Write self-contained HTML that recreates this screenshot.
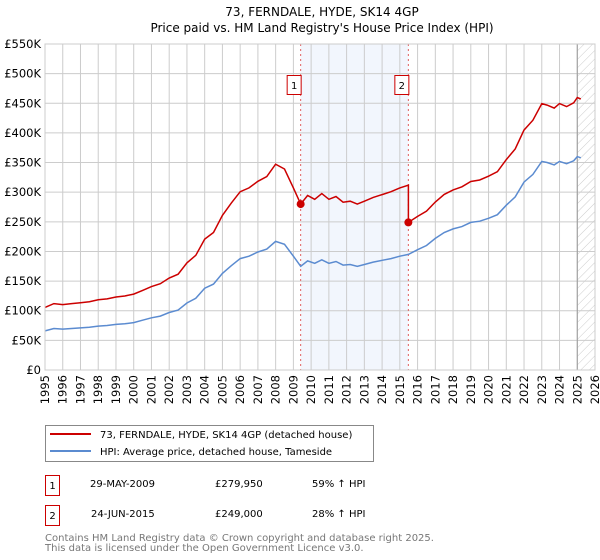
<!DOCTYPE html>
<html><head><meta charset="utf-8"><style>
body{margin:0;background:#fff;font-family:"DejaVu Sans","Liberation Sans",sans-serif;}
svg{display:block}
</style></head><body>
<svg id="chart" width="600" height="560" xmlns="http://www.w3.org/2000/svg" font-family="DejaVu Sans, Liberation Sans, sans-serif">
<defs><pattern id="hatch" width="6" height="6" patternUnits="userSpaceOnUse" patternTransform="rotate(45)"><line x1="0" y1="0" x2="0" y2="6" stroke="#ccc" stroke-width="1"/></pattern></defs>
<text x="322" y="16" text-anchor="middle" font-size="12">73, FERNDALE, HYDE, SK14 4GP</text>
<text x="322" y="32" text-anchor="middle" font-size="12">Price paid vs. HM Land Registry's House Price Index (HPI)</text>
<g id="plot"></g>
<g>
<rect x="45.5" y="425.5" width="328" height="36" fill="#fff" stroke="#888"/>
<line x1="50" y1="434" x2="91" y2="434" stroke="#cc0000" stroke-width="2"/>
<text x="100" y="438" font-size="10">73, FERNDALE, HYDE, SK14 4GP (detached house)</text>
<line x1="50" y1="451" x2="91" y2="451" stroke="#5b8bd0" stroke-width="2"/>
<text x="100" y="455" font-size="10">HPI: Average price, detached house, Tameside</text>
</g>
<g font-size="10">
<rect x="45.5" y="475.5" width="14" height="20" fill="#fff" stroke="#cc0000"/>
<text x="52.5" y="489" text-anchor="middle">1</text>
<text x="90" y="487">29-MAY-2009</text><text x="215" y="487">£279,950</text><text x="312" y="487">59% ↑ HPI</text>
<rect x="45.5" y="505.5" width="14" height="20" fill="#fff" stroke="#cc0000"/>
<text x="52.5" y="519" text-anchor="middle">2</text>
<text x="91" y="517">24-JUN-2015</text><text x="215" y="517">£249,000</text><text x="312" y="517">28% ↑ HPI</text>
</g>
<text x="45" y="541" font-size="10" fill="#777">Contains HM Land Registry data © Crown copyright and database right 2025.</text>
<text x="45" y="551" font-size="10" fill="#777">This data is licensed under the Open Government Licence v3.0.</text>
</svg>
<script>
const hpiYears=[1995,1995.5,1996,1996.5,1997,1997.5,1998,1998.5,1999,1999.5,2000,2000.5,2001,2001.5,2002,2002.5,2003,2003.5,2004,2004.5,2005,2005.5,2006,2006.5,2007,2007.5,2008,2008.5,2009,2009.41,2009.8,2010.2,2010.6,2011,2011.4,2011.8,2012.2,2012.6,2013,2013.5,2014,2014.5,2015,2015.48,2016,2016.5,2017,2017.5,2018,2018.5,2019,2019.5,2020,2020.5,2021,2021.5,2022,2022.5,2023,2023.3,2023.7,2024,2024.4,2024.8,2025,2025.2];
const hpiValues=[66,70,69,70,71,72,74,75,77,78,80,84,88,91,97,101,113,121,138,145,163,176,188,192,199,204,217,212,192,175,184,180,186,180,183,177,178,175,178,182,185,188,192,195,203,210,222,232,238,242,249,251,256,262,278,292,317,330,352,350,346,352,348,353,360,358];
const saleYears=[2009.41,2015.48];
const salePrices=[279950,249000];
const saleLabels=["1","2"];
const yTicks=[0,50,100,150,200,250,300,350,400,450,500,550];
const xTicks=[1995,1996,1997,1998,1999,2000,2001,2002,2003,2004,2005,2006,2007,2008,2009,2010,2011,2012,2013,2014,2015,2016,2017,2018,2019,2020,2021,2022,2023,2024,2025,2026];
const X0=45,X1=595,Y0=370,Y1=44;
const xs=y=>X0+(y-1995)/(2026-1995)*(X1-X0);
const ys=v=>Y0-v/550*(Y0-Y1);
const NS="http://www.w3.org/2000/svg";
const g=document.getElementById('plot');
function mk(t,a){const e=document.createElementNS(NS,t);for(const k in a)e.setAttribute(k,a[k]);g.appendChild(e);return e;}
let band=mk('rect',{x:xs(saleYears[0]),y:Y1,width:xs(saleYears[1])-xs(saleYears[0]),height:Y0-Y1,fill:'#f2f6fd'});


let hat=mk('rect',{x:xs(2025.0),y:Y1,width:X1-xs(2025.0),height:Y0-Y1,fill:'url(#hatch)'});


yTicks.forEach(v=>{
 let l=mk('line',{x1:X0,x2:X1,y1:ys(v),y2:ys(v),stroke:'#ccc'});
 
 
 let t=mk('text',{x:X0-4,y:ys(v)+4,'text-anchor':'end','font-size':'11.5'});
 t.textContent=v===0?'£0':'£'+v+'K';
 
 
});
xTicks.forEach(v=>{
 let l=mk('line',{x1:xs(v),x2:xs(v),y1:Y1,y2:Y0,stroke:'#ccc'});
 
 
 let t=mk('text',{x:0,y:0,'font-size':'11.5','text-anchor':'end',transform:`translate(${xs(v)+4},${Y0+5}) rotate(-90)`});
 t.textContent=v;
 
 
});
let endl=mk('line',{x1:xs(2025.0),x2:xs(2025.0),y1:Y1,y2:Y0,stroke:'#999'});


saleYears.forEach((s,i)=>{
 let l=mk('line',{x1:xs(s),x2:xs(s),y1:Y1,y2:Y0,stroke:'#e06060','stroke-dasharray':'2,3'});
 
 
});
let hp=hpiYears.map((y,i)=>xs(y).toFixed(1)+','+ys(hpiValues[i]).toFixed(1)).join(' ');
let hl=mk('polyline',{points:hp,fill:'none',stroke:'#5b8bd0','stroke-width':1.5});


function hpiAt(y){for(let i=0;i<hpiYears.length-1;i++){if(y>=hpiYears[i]&&y<=hpiYears[i+1]){const f=(y-hpiYears[i])/(hpiYears[i+1]-hpiYears[i]);return hpiValues[i]+f*(hpiValues[i+1]-hpiValues[i]);}}return hpiValues[hpiValues.length-1];}
const r1=salePrices[0]/1000/hpiAt(saleYears[0]), r2=salePrices[1]/1000/hpiAt(saleYears[1]);
let pts=[];
hpiYears.forEach((y,i)=>{
 if(y<saleYears[1]) pts.push([y,hpiValues[i]*r1]);
 else { if(y===saleYears[1]) pts.push([y,hpiValues[i]*r1]); pts.push([y,hpiValues[i]*r2]); }
});
let pl=mk('polyline',{points:pts.map(p=>xs(p[0]).toFixed(1)+','+ys(p[1]).toFixed(1)).join(' '),fill:'none',stroke:'#cc0000','stroke-width':1.5});


saleYears.forEach((s,i)=>{
 let c=mk('circle',{cx:xs(s),cy:ys(salePrices[i]/1000),r:4,fill:'#cc0000'});
 
 
 let b=mk('rect',{x:xs(s)-13.5,y:75.5,width:14,height:19,fill:'#fff',stroke:'#cc0000'});
 
 
 let t=mk('text',{x:xs(s)-6.5,y:89,'text-anchor':'middle','font-size':'10'});
 t.textContent=saleLabels[i];
 
 
});
let fr=mk('rect',{x:X0,y:Y1,width:X1-X0,height:Y0-Y1,fill:'none',stroke:'#ccc'});


</script>
</body></html>
